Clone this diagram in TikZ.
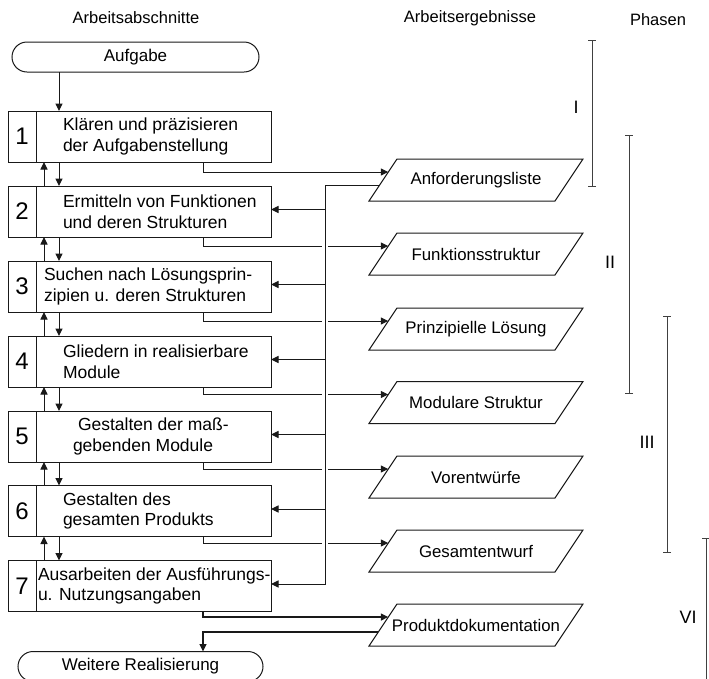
\documentclass[tikz,border=0pt]{standalone}
\usepackage{fontspec}
\setmainfont{Liberation Sans}
\usetikzlibrary{arrows.meta,shapes.misc}
\definecolor{linec}{gray}{0.1}
\definecolor{barc}{gray}{0.25}
\begin{document}
\begin{tikzpicture}[x=1pt,y=-1pt,
  every node/.style={inner sep=0pt, outer sep=0pt},
  lines/.style={draw=linec, line width=1pt},
  arr/.style={lines, -{Triangle[length=7.5pt,width=7pt]}},
  numcell/.style={lines, rectangle, minimum width=28pt, minimum height=51pt,
    font=\fontsize{24}{24}\selectfont},
  textcell/.style={lines, rectangle, minimum width=235pt, minimum height=51pt},
  boxtext/.style={align=left, anchor=west, font=\fontsize{17.5}{20.5}\selectfont},
  terminal/.style={lines, rounded rectangle, minimum height=30pt,
    font=\fontsize{17}{20}\selectfont},
  % body of a result parallelogram (outline drawn from its corners below)
  result/.style={rectangle, minimum width=186pt, minimum height=42pt,
    font=\fontsize{16.8}{20}\selectfont},
  head/.style={font=\fontsize{16.5}{20}\selectfont},
  phase/.style={font=\fontsize{18}{20}\selectfont},
  phasebar/.style={draw=barc, line width=1pt, {Bar[width=8pt]}-{Bar[width=8pt]}},
]
\useasboundingbox (0,0) rectangle (709,678);

% column headings
\node[head] (hA) at (136,18) {Arbeitsabschnitte};
\node[head] (hE) at (470,18) {Arbeitsergebnisse};
\node[head] (hP) at (658,20) {Phasen};

% start and end terminals
\node[terminal, minimum width=247pt] (auf) at (135.5,57) {Aufgabe};
\node[terminal, minimum width=245pt] (wr) at (140.5,666.5) {Weitere Realisierung};

% working steps: number cell + text cell
\foreach \i/\y in {1/136.5,2/211.5,3/286.5,4/361.5,5/436.5,6/511,7/586}{
  \node[numcell] (n\i) at (22,\y) {\i};
  \node[textcell] (b\i) at (153.5,\y) {};
}
\node[boxtext] (t1) at ([xshift=27pt]b1.west) {Klären und präzisieren\\der Aufgabenstellung};
\node[boxtext] (t2) at ([xshift=27pt]b2.west) {Ermitteln von Funktionen\\und deren Strukturen};
\node[boxtext] (t3) at ([xshift=8pt]b3.west) {Suchen nach Lösungsprin-\\zipien u. deren Strukturen};
\node[boxtext] (t4) at ([xshift=27pt]b4.west) {Gliedern in realisierbare\\Module};
\node[boxtext] (t5) at ([xshift=37pt]b5.west) {\hspace*{5pt}Gestalten der maß-\\gebenden Module};
\node[boxtext] (t6) at ([xshift=27pt]b6.west) {Gestalten des\\gesamten Produkts};
\node[boxtext] (t7) at ([xshift=2pt]b7.west) {Ausarbeiten der Ausführungs-\\u. Nutzungsangaben};

% working results
\node[result] (r1) at (476,180) {Anforderungsliste};
\node[result] (r2) at (476,254) {Funktionsstruktur};
\node[result] (r3) at (476,329) {Prinzipielle Lösung};
\node[result] (r4) at (476,402.5) {Modulare Struktur};
\node[result] (r5) at (476,477) {Vorentwürfe};
\node[result] (r6) at (476,551) {Gesamtentwurf};
\node[result] (r7) at (476,625) {Produktdokumentation};
\foreach \i in {1,...,7}{
  \draw[lines, line join=miter] ([xshift=-14pt]r\i.south west) -- ([xshift=14pt]r\i.north west)
    -- ([xshift=14pt]r\i.north east) -- ([xshift=-14pt]r\i.south east) -- cycle;
  % points on the slanted left side
  \coordinate (rin\i) at ([xshift=5.3pt,yshift=8pt]r\i.west);
  \coordinate (rout\i) at ([xshift=-3.5pt,yshift=-5.2pt]r\i.west);
}
\coordinate (rdoc) at ([xshift=-4.7pt,yshift=-7pt]r7.west);

% task into first step
\coordinate (d0) at ([xshift=23pt]b1.north west);
\draw[arr] (auf.south -| d0) -- (d0);

% forward and backward arrows between steps
\foreach \i in {1,...,6}{
  \pgfmathtruncatemacro{\j}{\i+1}
  \draw[arr] ([xshift=8pt]b\j.north west) -- ([xshift=8pt]b\i.south west);
  \draw[arr] ([xshift=23pt]b\i.south west) -- ([xshift=23pt]b\j.north west);
}

% step outputs into results
\foreach \i in {1,...,7}{
  \coordinate (o\i) at ([xshift=-68pt]b\i.south east);
  \coordinate (e\i) at ([yshift=2pt]b\i.east);
}
\foreach \i in {1,...,6}{
  \draw[arr] (o\i) |- (rin\i);
}
\draw[arr, line width=1.5pt] (o7) |- (rin7);

% feedback bus from the requirement list
\coordinate (bus) at (325,0);
\draw[white, line width=6pt] (rout1 -| bus) -- (e7 -| bus);
\draw[arr] (rout1) -| (e7 -| bus) -- (e7);
\foreach \i in {2,...,6}{
  \draw[arr] (e\i -| bus) -- (e\i);
}

% documentation to further realisation
\draw[arr, line width=1.5pt] (rdoc) -| (wr.north -| o7);

% phases
\draw[phasebar] (592,40) -- (592,187);
\draw[phasebar] (629,135) -- (629,394);
\draw[phasebar] (667,316) -- (667,553);
\draw[draw=barc, line width=1pt, {Bar[width=8pt]}-] (706,538) -- (706,690);
\node[phase] (ph1) at (576,107) {I};
\node[phase] (ph2) at (610,262) {II};
\node[phase] (ph3) at (647,442) {III};
\node[phase] (ph4) at (688,617) {VI};
\end{tikzpicture}
\end{document}
